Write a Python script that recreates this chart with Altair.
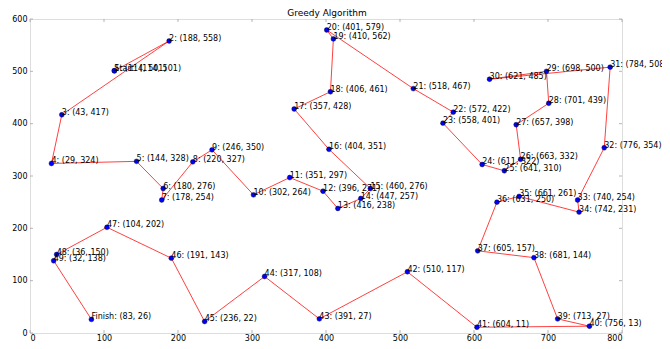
import altair as alt
import pandas as pd

names = ["Start", "1", "2", "3", "4", "5", "6", "7", "8", "9", "10", "11", "12", "13", "14", "15",
         "16", "17", "18", "19", "20", "21", "22", "23", "24", "25", "26", "27", "28", "29", "30",
         "31", "32", "33", "34", "35", "36", "37", "38", "39", "40", "41", "42", "43", "44", "45",
         "46", "47", "48", "49", "Finish"]
xs = [114, 114, 188, 43, 29, 144, 180, 178, 220, 246, 302, 351, 396, 416, 447, 460,
      404, 357, 406, 410, 401, 518, 572, 558, 611, 641, 663, 657, 701, 698, 621,
      784, 776, 740, 742, 661, 631, 605, 681, 713, 756, 604, 510, 391, 317, 236,
      191, 104, 36, 32, 83]
ys = [501, 501, 558, 417, 324, 328, 276, 254, 327, 350, 264, 297, 271, 238, 257, 276,
      351, 428, 461, 562, 579, 467, 422, 401, 322, 310, 332, 398, 439, 500, 485,
      508, 354, 254, 231, 261, 250, 157, 144, 27, 13, 11, 117, 27, 108, 22,
      143, 202, 150, 138, 26]
x_ticks = [0, 100, 200, 300, 400, 500, 600, 700, 800]
y_ticks = [0, 100, 200, 300, 400, 500, 600]
title_text = ["Greedy Algorithm"]

df = pd.DataFrame({"name": names, "x": xs, "y": ys, "order": list(range(len(names)))})
df["label"] = df["name"] + ": (" + df["x"].astype(str) + ", " + df["y"].astype(str) + ")"

W, H = 592, 314
xs_scale = alt.Scale(domain=[0, 800], nice=False, zero=False)
ys_scale = alt.Scale(domain=[0, 600], nice=False, zero=False)

FONT = "DejaVu Sans"
xenc = alt.X("x:Q", scale=xs_scale,
             axis=alt.Axis(values=x_ticks, title=None, grid=False, ticks=False,
                           labelFontSize=8, labelColor="black", domain=False,
                           labelFont=FONT, labelPadding=1))
yenc = alt.Y("y:Q", scale=ys_scale,
             axis=alt.Axis(values=y_ticks, title=None, grid=False, ticks=False,
                           labelFontSize=8, labelColor="black", domain=False,
                           labelFont=FONT, labelPadding=3))

base = alt.Chart(df)
line = base.mark_line(color="#ff0000", opacity=0.75, strokeWidth=1).encode(
    x=xenc, y=yenc, order="order:Q")
pts = base.mark_point(filled=True, color="#0000ff", size=24, stroke="black",
                      strokeWidth=0.4, opacity=1).encode(x="x:Q", y="y:Q")
txt = base.mark_text(align="left", baseline="alphabetic", dx=0, dy=0, fontSize=8,
                     font=FONT, color="black").encode(
    x="x:Q", y="y:Q", text="label:N")

xt = pd.DataFrame({"v": x_ticks})
yt = pd.DataFrame({"v": y_ticks})
TK = dict(color="#999999", size=3, thickness=1)
xtick_b = alt.Chart(xt).mark_tick(orient="vertical", **TK).encode(
    x=alt.X("v:Q", scale=xs_scale), y=alt.value(H - 1.5))
xtick_t = alt.Chart(xt).mark_tick(orient="vertical", **TK).encode(
    x=alt.X("v:Q", scale=xs_scale), y=alt.value(1.5))
ytick_l = alt.Chart(yt).mark_tick(orient="horizontal", **TK).encode(
    y=alt.Y("v:Q", scale=ys_scale), x=alt.value(1.5))
ytick_r = alt.Chart(yt).mark_tick(orient="horizontal", **TK).encode(
    y=alt.Y("v:Q", scale=ys_scale), x=alt.value(W - 1.5))

title = alt.Chart(pd.DataFrame({"t": title_text})).mark_text(
    align="center", baseline="alphabetic", fontSize=9, font=FONT, color="black").encode(
    x=alt.value(W / 2 + 1), y=alt.value(-3), text="t:N")

chart = alt.layer(xtick_b, xtick_t, ytick_l, ytick_r, line, pts, txt, title).properties(
    width=W, height=H,
    autosize=alt.AutoSizeParams(type="none"),
    padding={"left": 22, "top": 11, "right": 40, "bottom": 8},
).configure_view(stroke="#555555", strokeWidth=1.2).configure(background="white")

chart.save("out.html", embed_options={"renderer": "svg", "actions": False})
